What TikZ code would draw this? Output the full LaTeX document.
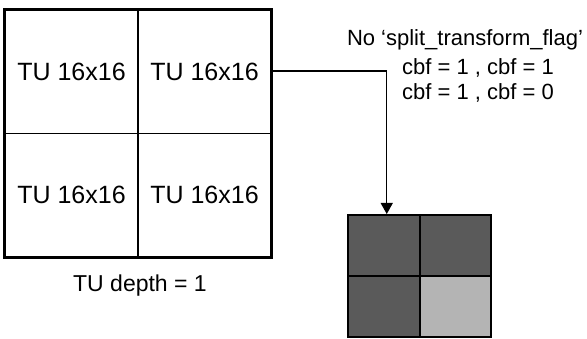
\documentclass[tikz,border=0pt]{standalone}
\usepackage{fontspec}
\setmainfont{Liberation Sans}
\usetikzlibrary{arrows.meta}
\definecolor{darkcell}{HTML}{5A5A5A}
\definecolor{lightcell}{HTML}{B4B4B4}
\begin{document}
\begin{tikzpicture}[x=1pt,y=1pt,
  bigcell/.style={draw=black,line width=1.2pt,minimum width=133pt,minimum height=123.5pt,inner sep=0pt,font=\fontsize{25}{28}\selectfont},
  smallcell/.style={draw=black,line width=2pt,minimum width=71.5pt,minimum height=61pt,inner sep=0pt},
  lbl/.style={inner sep=0pt,font=\fontsize{22}{26}\selectfont},
  conn/.style={line width=1.2pt,-{Triangle[length=11pt,width=12pt]}}]
\useasboundingbox (0,0) rectangle (587,338);
\fill[white] (0,0) rectangle (587,338);
% big grid (y = 338 - ypx)
\node[bigcell] (tl) at (71.5,266.25) {TU 16x16};
\node[bigcell] (tr) at (204.5,266.25) {TU 16x16};
\node[bigcell] (bl) at (71.5,142.75) {TU 16x16};
\node[bigcell] (br) at (204.5,142.75) {TU 16x16};
\draw[line width=2pt] (tl.north west) rectangle (br.south east);
\node[lbl,font=\fontsize{23}{26}\selectfont] (depth) at (140,52) {TU depth = 1};
% small grid
\node[smallcell,fill=darkcell] (s1) at (383.75,92.5) {};
\node[smallcell,fill=darkcell] (s2) at (455.25,92.5) {};
\node[smallcell,fill=darkcell] (s3) at (383.75,31.5) {};
\node[smallcell,fill=lightcell] (s4) at (455.25,31.5) {};
% texts
\node[lbl] (t1) at (465,298) {No ‘split\_transform\_flag’};
\node[lbl] (t2) at (478,270) {cbf = 1 , cbf = 1};
\node[lbl] (t3) at (478,245) {cbf = 1 , cbf = 0};
% connector
\coordinate (arrtip) at ([xshift=3pt]s1.north);
\draw[conn] (tr.east |- 0,267) -| (arrtip);
\end{tikzpicture}
\end{document}
